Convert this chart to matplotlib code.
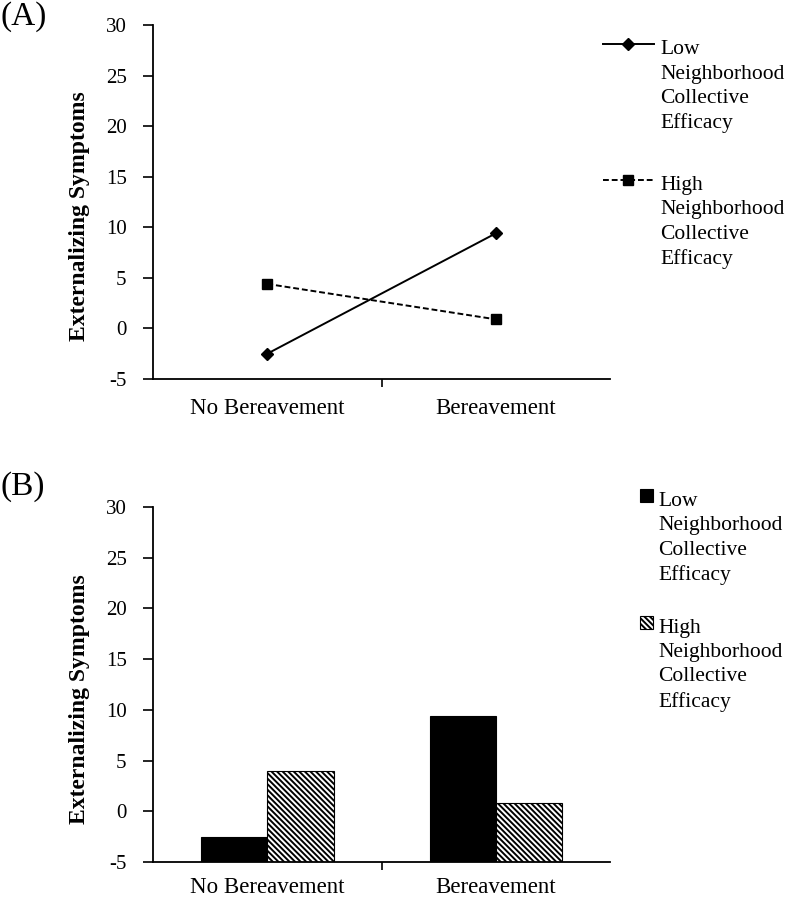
import numpy as np
import matplotlib
matplotlib.use("Agg")
import matplotlib.pyplot as plt
from matplotlib.lines import Line2D
from matplotlib.container import BarContainer
from matplotlib.legend_handler import (HandlerLine2D, HandlerPatch,
                                       update_from_first_child)

# ===========================
# data
# ===========================

CATEGORIES = ["No Bereavement", "Bereavement"]

LOW_LINE = [-2.5, 9.4]
HIGH_LINE = [4.4, 0.9]

LOW_BAR = [-2.5, 9.4]
HIGH_BAR = [4.0, 0.8]

LABEL_LOW = "Low\nNeighborhood\nCollective\nEfficacy"
LABEL_HIGH = "High\nNeighborhood\nCollective\nEfficacy"

YTICKS = [-5, 0, 5, 10, 15, 20, 25, 30]
YLABEL = "Externalizing Symptoms"

plt.rcParams["font.family"] = ["Liberation Serif", "DejaVu Serif"]
plt.rcParams["hatch.linewidth"] = 1.4

LEG_FS = 15.5
LINESP = 1.38
# shift legend handles up to the first text line
SHIFT = 1.5 * LINESP * LEG_FS * 0.95


class TopLine(HandlerLine2D):
    def create_artists(self, legend, orig_handle, xdescent, ydescent,
                       width, height, fontsize, trans):
        arts = super().create_artists(legend, orig_handle, xdescent, ydescent,
                                      width, height, fontsize, trans)
        for a in arts:
            a.set_ydata(np.asarray(a.get_ydata()) + SHIFT)
        return arts


class TopPatch(HandlerPatch):
    def create_artists(self, legend, orig_handle, xdescent, ydescent,
                       width, height, fontsize, trans):
        arts = super().create_artists(legend, orig_handle, xdescent, ydescent,
                                      width, height, fontsize, trans)
        for a in arts:
            a.set_y(a.get_y() + SHIFT)
        return arts


fig = plt.figure(figsize=(7.9, 9), dpi=100)

ax_a = fig.add_axes([0.1937, 0.5789, 0.5785, 0.3933])
ax_b = fig.add_axes([0.1937, 0.0422, 0.5785, 0.3945])

x = np.arange(len(CATEGORIES))


def style_axis(ax, pad):
    ax.set_xlim(-0.5, 1.5)
    ax.set_ylim(-5, 30)
    ax.set_yticks(YTICKS)
    ax.set_yticklabels([str(v) for v in YTICKS], fontsize=15)
    ax.set_xticks(x)
    ax.set_xticklabels(CATEGORIES, fontsize=16.5)
    ax.tick_params(axis="x", which="major", length=0, pad=pad)
    ax.set_xticks([0.5], minor=True)
    ax.tick_params(axis="x", which="minor", length=6, width=1.2, direction="out")
    ax.tick_params(axis="y", length=7, width=1.2, direction="out", pad=12)
    for side in ["top", "right"]:
        ax.spines[side].set_visible(False)
    for side in ["left", "bottom"]:
        ax.spines[side].set_linewidth(1.3)
    ax.set_ylabel(YLABEL, fontsize=17, fontweight="bold")
    ax.yaxis.set_label_coords(-0.137, 0.46)


def style_legend(leg):
    for t in leg.get_texts():
        t.set_linespacing(LINESP)


# ===========================
# (A) line chart
# ===========================

ax_a.plot(x, LOW_LINE, color="black", linewidth=1.4, marker="D",
          markersize=6, label=LABEL_LOW, clip_on=False)
ax_a.plot(x, HIGH_LINE, color="black", linewidth=1.4, linestyle=(0, (3, 1.5)),
          marker="s", markersize=7, label=LABEL_HIGH, clip_on=False)
style_axis(ax_a, 14)

leg_a = ax_a.legend(loc="upper left", bbox_to_anchor=(0.985, 0.957),
                    frameon=False, fontsize=LEG_FS, handlelength=2.35,
                    handletextpad=0.3, labelspacing=1.98, borderaxespad=0,
                    borderpad=0, handler_map={Line2D: TopLine()})
style_legend(leg_a)

fig.text(0.0, 0.999, "(A)", fontsize=24, ha="left", va="top")

# ===========================
# (B) bar chart
# ===========================

w = 0.29
base = -5
ax_b.bar(x - w / 2, np.array(LOW_BAR) - base, bottom=base, width=w,
         color="black", edgecolor="black", linewidth=0.8, label=LABEL_LOW)
ax_b.bar(x + w / 2, np.array(HIGH_BAR) - base, bottom=base, width=w,
         color="white", edgecolor="black", linewidth=0.8,
         hatch="\\\\\\\\\\\\", label=LABEL_HIGH)
style_axis(ax_b, 11)

leg_b = ax_b.legend(loc="upper left", bbox_to_anchor=(1.066, 1.042),
                    frameon=False, fontsize=LEG_FS, handlelength=0.58,
                    handleheight=0.58, handletextpad=0.25, labelspacing=1.55,
                    borderaxespad=0, borderpad=0,
                    handler_map={BarContainer: TopPatch(
                        update_func=update_from_first_child)})
style_legend(leg_b)

fig.text(0.0, 0.476, "(B)", fontsize=24, ha="left", va="top")

plt.savefig("out.png", dpi=100)
